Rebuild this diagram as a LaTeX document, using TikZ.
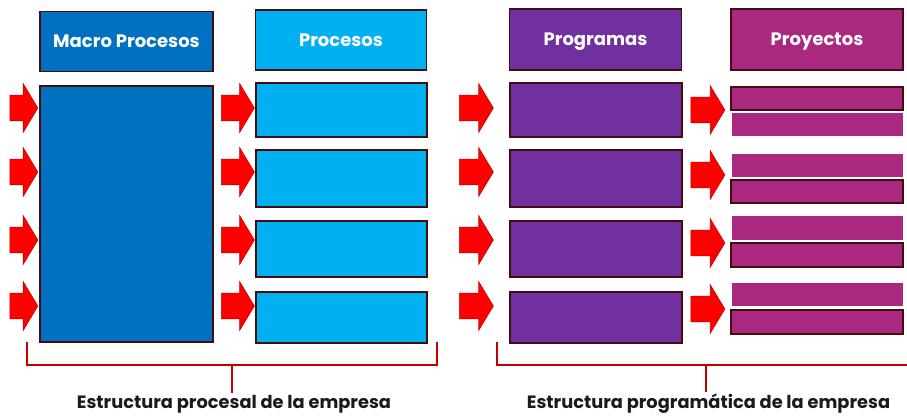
\documentclass[tikz,border=0pt]{standalone}
\usepackage{fontspec}
\setmainfont{Poppins}
\usepackage{tikz}
\usetikzlibrary{shapes.arrows}
\definecolor{macro}{HTML}{0070C0}
\definecolor{proc}{HTML}{00B0F0}
\definecolor{prog}{HTML}{7030A0}
\definecolor{proy}{HTML}{AA2880}
\definecolor{edge}{HTML}{460B0B}
\definecolor{rojo}{HTML}{C00000}
\definecolor{texto}{HTML}{1A1A1A}
\begin{document}
\begin{tikzpicture}[x=1pt,y=-1pt,
  box/.style={draw=edge,line width=1.6pt,inner sep=0pt,text=white,text height=12.5pt,text depth=0pt,font=\bfseries\fontsize{18}{21}\selectfont},
  bar/.style={fill=proy,minimum width=172pt,inner sep=0pt},
  darkbar/.style={bar,draw=edge,line width=1.6pt},
  lightbar/.style={bar,draw=white,line width=1pt},
  flecha/.style={single arrow,draw=red!80!black,fill=red,line width=0.6pt,inner xsep=0pt,inner ysep=12.5pt,single arrow head extend=11.5pt,single arrow tip angle=118,single arrow head indent=0pt},
  etiqueta/.style={text=texto,inner sep=2pt,font=\bfseries\fontsize{17.8}{21}\selectfont},
  llave/.style={draw=rojo,line width=2.4pt}]
\useasboundingbox (0,0) rectangle (907,419);

\node[box,fill=macro,minimum width=173pt,minimum height=60pt] (hmacro) at (126.5,41.5) {Macro Procesos};
\node[box,fill=proc,minimum width=171pt,minimum height=60pt] (hproc) at (341,40) {Procesos};
\node[box,fill=prog,minimum width=172pt,minimum height=61pt] (hprog) at (595.5,39.5) {Programas};
\node[box,fill=proy,minimum width=172pt,minimum height=61pt] (hproy) at (817,39.5) {Proyectos};

\node[box,fill=macro,minimum width=173pt,minimum height=256pt] (macro) at (126.5,214) {};

\node[box,fill=proc,minimum width=171pt,minimum height=54pt] (proc1) at (341.5,110) {};
\node[box,fill=proc,minimum width=171pt,minimum height=57pt] (proc2) at (341.5,178.5) {};
\node[box,fill=proc,minimum width=171pt,minimum height=56pt] (proc3) at (341.5,249) {};
\node[box,fill=proc,minimum width=171pt,minimum height=51pt] (proc4) at (341.5,317.5) {};

\node[box,fill=prog,minimum width=172pt,minimum height=54pt] (prog1) at (596,110) {};
\node[box,fill=prog,minimum width=172pt,minimum height=57pt] (prog2) at (596,178.5) {};
\node[box,fill=prog,minimum width=172pt,minimum height=56pt] (prog3) at (596,249) {};
\node[box,fill=prog,minimum width=172pt,minimum height=51pt] (prog4) at (596,317.5) {};

\node[darkbar,minimum height=23pt] (proy1a) at (817,98.5) {};
\node[lightbar,minimum height=24pt] (proy1b) at (817,125) {};
\node[darkbar,minimum height=23pt] (proy2b) at (817,191.5) {};
\node[lightbar,minimum height=24pt] (proy2a) at (817,166) {};
\node[darkbar,minimum height=24pt] (proy3b) at (817,255) {};
\node[lightbar,minimum height=25pt] (proy3a) at (817,228.5) {};
\node[darkbar,minimum height=24pt] (proy4b) at (817,322) {};
\node[lightbar,minimum height=24pt] (proy4a) at (817,295) {};

\node[flecha,minimum height=28pt] (fl1a) at (20,108) {};
\node[flecha,minimum height=28pt] (fl1b) at (20,172) {};
\node[flecha,minimum height=28pt] (fl1c) at (20,240) {};
\node[flecha,minimum height=28pt] (fl1d) at (20,306) {};
\node[flecha,minimum height=33pt] (fl2a) at (234,108) {};
\node[flecha,minimum height=33pt] (fl2b) at (234,172) {};
\node[flecha,minimum height=33pt] (fl2c) at (234,240) {};
\node[flecha,minimum height=33pt] (fl2d) at (234,306) {};
\node[flecha,minimum height=34pt] (fl3a) at (472.5,108) {};
\node[flecha,minimum height=34pt] (fl3b) at (472.5,172) {};
\node[flecha,minimum height=34pt] (fl3c) at (472.5,240) {};
\node[flecha,minimum height=34pt] (fl3d) at (472.5,306) {};
\node[flecha,minimum height=34pt] (fl4a) at (704,110) {};
\node[flecha,minimum height=34pt] (fl4b) at (704,175) {};
\node[flecha,minimum height=34pt] (fl4c) at (704,243) {};
\node[flecha,minimum height=34pt] (fl4d) at (704,309) {};

\node[etiqueta] (lblproc) at (234,404) {Estructura procesal de la empresa};
\node[etiqueta] (lblprog) at (708.5,404) {Estructura programática de la empresa};

\coordinate (procL) at (27,342);
\coordinate (procR) at (437,342);
\coordinate (procM) at (232,365);
\coordinate (progL) at (497,342);
\coordinate (progR) at (907,365);
\coordinate (progM) at (706,365);
\draw[llave] (procL) -- ++(0,23) -| (procR);
\draw[llave] (procM) -- (procM |- lblproc.north);
\draw[llave] (progL) |- (progR);
\draw[llave] (progM) -- (progM |- lblprog.north);
\end{tikzpicture}
\end{document}
